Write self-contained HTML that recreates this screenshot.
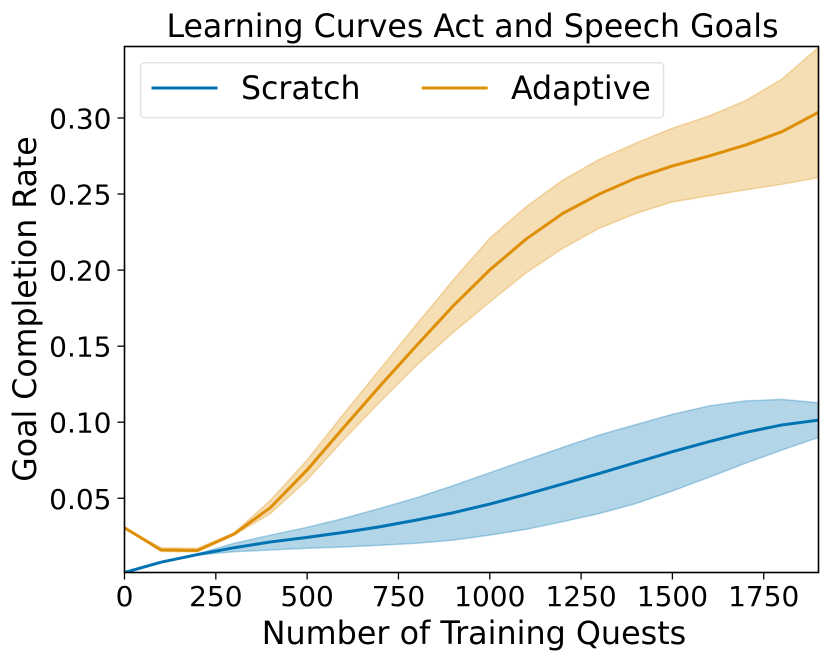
<!DOCTYPE html>
<html>
<head>
<meta charset="utf-8">
<title>Learning Curves Act and Speech Goals</title>
<style>
html,body{margin:0;padding:0;background:#fff;width:831px;height:662px;overflow:hidden}
svg{display:block}
text{font-family:"DejaVu Sans","Liberation Sans",sans-serif;fill:#000}
</style>
</head>
<body>
<svg id="chart" xmlns="http://www.w3.org/2000/svg" width="831" height="662" viewBox="0 0 831 662">
  <defs>
    <clipPath id="plot-clip"><rect x="124.5" y="46.5" width="694" height="526"/></clipPath>
  </defs>
  <rect x="124.5" y="46.5" width="694" height="526" fill="#fff"/>
  <g id="bands" clip-path="url(#plot-clip)"></g>
  <g id="lines" clip-path="url(#plot-clip)"></g>
  <g id="x-ticks"></g>
  <g id="y-ticks"></g>
  <rect x="124.5" y="46.5" width="694" height="526" fill="none" stroke="#000" stroke-width="1.6"/>
  <text x="472.5" y="37" text-anchor="middle" font-size="31.6">Learning Curves Act and Speech Goals</text>
  <text x="474" y="644" text-anchor="middle" font-size="31.8">Number of Training Quests</text>
  <text transform="translate(36 309) rotate(-90)" text-anchor="middle" font-size="31.6">Goal Completion Rate</text>
  <g>
    <rect x="140.5" y="62.8" width="523" height="55" rx="4" ry="4" fill="#fff" fill-opacity="0.8" stroke="#e3e3e3" stroke-width="1.5"/>
    <line x1="151.5" x2="217.5" y1="88" y2="88" stroke="#0173b2" stroke-width="3"/>
    <text x="241" y="99" font-size="31.6">Scratch</text>
    <line x1="421.7" x2="487.7" y1="88" y2="88" stroke="#de8f05" stroke-width="3"/>
    <text x="511" y="99" font-size="31.6">Adaptive</text>
  </g>
</svg>
<script>
const quests = [0,100,200,300,400,500,600,700,800,900,1000,1100,1200,1300,1400,1500,1600,1700,1800,1900];
const scratchMean  = [.0012,.0080,.0130,.0175,.0213,.0243,.0276,.0313,.0357,.0405,.0462,.0526,.0594,.0663,.0735,.0806,.0872,.0933,.0982,.1014];
const scratchUpper = [.0012,.0080,.0135,.0204,.0258,.0309,.0368,.0434,.0504,.0583,.0668,.0752,.0835,.0916,.0984,.1052,.1107,.1140,.1150,.1128];
const scratchLower = [.0012,.0080,.0127,.0148,.0160,.0171,.0180,.0191,.0204,.0225,.0258,.0296,.0346,.0400,.0465,.0548,.0638,.0730,.0817,.0900];
const adaptiveMean  = [.0306,.0160,.0157,.0265,.0440,.0686,.0965,.1240,.1505,.1765,.2001,.2205,.2373,.2500,.2605,.2685,.2750,.2822,.2910,.3037];
const adaptiveUpper = [.0306,.0175,.0172,.0272,.0488,.0752,.1055,.1350,.1645,.1935,.2209,.2417,.2592,.2728,.2835,.2933,.3013,.3114,.3256,.3465];
const adaptiveLower = [.0306,.0150,.0148,.0258,.0400,.0620,.0885,.1135,.1375,.1590,.1790,.1983,.2143,.2275,.2372,.2448,.2489,.2527,.2564,.2608];
const xTickValues = [0,250,500,750,1000,1250,1500,1750];
const xTickLabels = ["0","250","500","750","1000","1250","1500","1750"];
const yTickValues = [0.05,0.10,0.15,0.20,0.25,0.30];
const yTickLabels = ["0.05","0.10","0.15","0.20","0.25","0.30"];

const NS = "http://www.w3.org/2000/svg";
const xDomain = [0, 1900];
const yDomain = [0.0012, 0.3470];
const plot = { left: 124.5, right: 818.5, top: 46.5, bottom: 572.5 };
function xScale(v) {
  return plot.left + (v - xDomain[0]) / (xDomain[1] - xDomain[0]) * (plot.right - plot.left);
}
function yScale(v) {
  return plot.bottom - (v - yDomain[0]) / (yDomain[1] - yDomain[0]) * (plot.bottom - plot.top);
}
function make(tag, attrs) {
  const el = document.createElementNS(NS, tag);
  for (const k in attrs) el.setAttribute(k, attrs[k]);
  return el;
}
function linePoints(xs, ys) {
  return xs.map((x, i) => xScale(x).toFixed(2) + "," + yScale(ys[i]).toFixed(2));
}
const bandsGroup = document.getElementById("bands");
const linesGroup = document.getElementById("lines");
const xTicksGroup = document.getElementById("x-ticks");
const yTicksGroup = document.getElementById("y-ticks");

const scratchBand = make("polygon", { points: linePoints(quests, scratchUpper).concat(linePoints(quests, scratchLower).reverse()).join(" "), fill: "#0173b2", "fill-opacity": 0.3, stroke: "#0173b2", "stroke-opacity": 0.3, "stroke-width": 1.5 });


bandsGroup.appendChild(scratchBand);

const adaptiveBand = make("polygon", { points: linePoints(quests, adaptiveUpper).concat(linePoints(quests, adaptiveLower).reverse()).join(" "), fill: "#de8f05", "fill-opacity": 0.3, stroke: "#de8f05", "stroke-opacity": 0.3, "stroke-width": 1.5 });


bandsGroup.appendChild(adaptiveBand);

const scratchLine = make("polyline", { points: linePoints(quests, scratchMean).join(" "), fill: "none", stroke: "#0173b2", "stroke-width": 3, "stroke-linejoin": "round" });


linesGroup.appendChild(scratchLine);

const adaptiveLine = make("polyline", { points: linePoints(quests, adaptiveMean).join(" "), fill: "none", stroke: "#de8f05", "stroke-width": 3, "stroke-linejoin": "round" });


linesGroup.appendChild(adaptiveLine);

xTickValues.forEach((v, i) => {
  const x = xScale(v);
  const tick = make("line", { x1: x, x2: x, y1: plot.bottom, y2: plot.bottom + 7, stroke: "#000", "stroke-width": 1.3 });
  
  
  xTicksGroup.appendChild(tick);
  const label = make("text", { x: x, y: 606, "text-anchor": "middle", "font-size": 28 });
  
  
  label.textContent = xTickLabels[i];
  xTicksGroup.appendChild(label);
});

yTickValues.forEach((v, i) => {
  const y = yScale(v);
  const tick = make("line", { x1: plot.left - 7, x2: plot.left, y1: y, y2: y, stroke: "#000", "stroke-width": 1.3 });
  
  
  yTicksGroup.appendChild(tick);
  const label = make("text", { x: 111.5, y: y + 10.5, "text-anchor": "end", "font-size": 28 });
  
  
  label.textContent = yTickLabels[i];
  yTicksGroup.appendChild(label);
});
</script>
</body>
</html>
